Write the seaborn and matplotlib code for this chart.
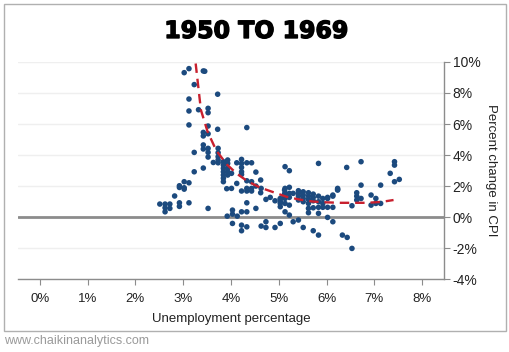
import numpy as np
import pandas as pd
import matplotlib
matplotlib.use("Agg")
import matplotlib.pyplot as plt
import matplotlib.patheffects as pe
from matplotlib.patches import Rectangle
from matplotlib.ticker import FuncFormatter
import seaborn as sns

# ------------------------------------------
# Data (monthly points, 1950-1969)
# ------------------------------------------
unemployment = [
    2.51, 2.62, 2.72, 2.62, 2.72, 2.62, 2.92, 2.92, 3.12, 2.82,
    2.92, 2.92, 3.02, 3.02, 3.02, 3.12, 3.23, 3.23, 3.02, 3.12,
    3.42, 3.45, 3.23, 3.12, 3.12, 3.12, 3.32, 3.52, 3.52, 3.72,
    3.52, 3.42, 3.42, 3.52, 3.72, 4.33, 3.42, 3.52,
    3.42, 3.42, 3.52, 3.52, 3.52, 3.63, 3.73, 3.73, 3.73, 3.73, 3.73,
    3.84, 3.84, 3.84, 3.84, 3.84, 3.84, 3.84,
    3.93, 3.93, 3.93, 3.93, 3.93, 4.01, 4.01, 3.91, 4.12,
    4.22, 4.22, 4.22, 4.22, 4.22, 4.33, 4.43, 4.52, 4.12,
    4.22, 4.33, 4.43, 4.33, 4.43, 4.33, 4.43, 4.52, 4.63, 4.62, 4.62,
    4.73, 4.82, 4.92, 5.03, 5.03, 5.03, 5.03, 5.03, 5.12, 5.12, 5.12,
    4.33, 3.92, 4.03, 4.13, 4.22, 4.33, 4.52, 4.03,
    4.03, 4.22, 4.22, 4.33, 4.63, 4.73, 4.73, 4.92, 5.03,
    5.13, 5.22, 5.83, 6.42,
    5.13, 5.13, 5.13, 5.13, 5.13, 5.13,
    5.22, 5.22, 5.22, 5.22, 5.22,
    5.30, 5.30,
    5.41, 5.41, 5.41, 5.41, 5.41,
    5.51, 5.51, 5.51, 5.51, 5.51,
    5.62, 5.62, 5.62, 5.62, 5.62, 5.62,
    5.72, 5.72, 5.72, 5.72, 5.72,
    5.83, 5.83, 5.83, 5.83, 5.83,
    5.92, 5.92, 5.92,
    6.02, 6.02, 6.02, 6.02,
    6.13, 6.13, 6.13, 6.13,
    6.23, 6.23, 6.23,
    6.33, 6.43, 6.53, 6.53,
    6.63, 6.63, 6.63,
    6.72, 6.72, 6.72,
    6.93, 6.93, 7.03, 7.03, 7.13, 7.13,
    7.33, 7.42, 7.42, 7.42, 7.52,
]
cpi_change = [
    0.84, 0.84, 0.84, 0.60, 0.56, 0.34, 0.92, 0.69, 0.92, 1.36,
    2.02, 1.91, 2.28, 1.89, 1.80, 2.21, 2.92, 4.17, 9.31, 9.57,
    9.42, 9.40, 8.54, 7.61, 6.84, 5.94, 6.92, 7.01, 6.73, 7.92,
    5.87, 5.46, 5.23, 5.37, 5.66, 5.77, 3.16, 0.56,
    4.65, 4.39, 4.43, 4.17, 3.87, 3.52, 4.43, 4.15, 3.89, 3.68, 3.50,
    3.57, 3.35, 3.14, 2.92, 2.71, 2.50, 2.28,
    3.68, 3.46, 3.14, 2.92, 2.71, 2.82, 1.85, 1.83, 3.50,
    3.72, 3.46, 3.20, 2.92, 2.75, 3.50, 3.50, 2.90, 2.17,
    1.68, 1.68, 1.68, 1.85, 1.85, 2.34, 2.28, 2.00, 1.85, 1.57, 2.39,
    1.14, 1.27, 1.05, 1.14, 0.88, 0.67, 1.20, 0.99, 1.74, 1.48, 1.27,
    0.92, 0.06, 0.45, 0.06, 0.34, 0.34, 0.56, 0.19,
    -0.41, -0.52, -0.88, -0.63, -0.58, -0.30, -0.67, -0.67, -0.41,
    3.25, 2.99, 3.46, 3.20,
    1.85, 1.20, 0.88, 0.34, 1.53, 1.42,
    1.92, 1.53, 1.27, 0.77, 0.13,
    1.53, -0.30,
    1.70, 1.53, 1.35, 1.10, -0.19,
    1.63, 1.42, 1.20, 0.99, -0.67,
    1.57, 1.35, 1.14, 0.88, 0.56, 0.28,
    1.48, 1.27, 1.05, 0.60, -0.88,
    1.35, 0.99, 0.63, 0.24, -1.16,
    1.20, 0.88, 0.63,
    1.20, 0.63, 1.27, -0.02,
    1.35, 1.42, 0.63, -0.30,
    1.85, 1.78, 1.74,
    -1.16, -1.31, -2.02, 0.73,
    1.57, 1.35, 1.10,
    3.57, 2.06, 1.20,
    1.42, 0.77, 1.20, 0.88, 0.88, 2.06,
    2.82, 3.57, 3.35, 2.28, 2.43,
]

# red dashed trend
trend_x = [3.26, 3.37, 3.51, 3.69, 3.91, 4.12, 4.35, 4.61, 5.03, 5.17,
           5.45, 5.72, 6.00, 6.28, 6.84, 7.15, 7.40]
trend_y = [9.9, 6.9, 5.5, 4.3, 3.4, 2.8, 2.3, 1.9, 1.45, 1.3,
           1.12, 1.0, 0.95, 0.92, 0.92, 0.98, 1.1]

x_ticks = [0, 1, 2, 3, 4, 5, 6, 7, 8]
y_ticks = [-4, -2, 0, 2, 4, 6, 8, 10]

df = pd.DataFrame({"unemployment": unemployment, "cpi": cpi_change})
trend = pd.DataFrame({"x": trend_x, "y": trend_y})

sns.set_style("white")
plt.rcParams["font.family"] = ["Liberation Sans", "DejaVu Sans"]

fig = plt.figure(figsize=(5.10, 3.52), dpi=100)
ax = fig.add_axes([0.035, 0.207, 0.836, 0.617])

# light gridlines + zero line
for yv in y_ticks:
    if yv != 0:
        ax.axhline(yv, color="#efefef", lw=1.0, zorder=0)
ax.axhline(0, color="#8c8c8c", lw=2.0, zorder=1)

sns.scatterplot(data=df, x="unemployment", y="cpi", ax=ax, color="#1c4a7e",
                s=16, edgecolor="none", linewidth=0, zorder=3, legend=False)
sns.lineplot(data=trend, x="x", y="y", ax=ax, color="#c8202e", lw=1.7,
             dashes=False, zorder=4, sort=False)
ax.lines[-1].set_dashes([4, 2.5])

ax.set_xlim(-0.46, 8.46)
ax.set_ylim(-4, 10)
ax.set_xticks(x_ticks)
ax.set_yticks(y_ticks)
ax.xaxis.set_major_formatter(FuncFormatter(lambda v, p: f"{v:.0f}%"))
ax.yaxis.set_major_formatter(FuncFormatter(lambda v, p: f"{v:.0f}%"))
ax.yaxis.tick_right()
ax.yaxis.set_label_position("right")

for side in ["left", "top"]:
    ax.spines[side].set_visible(False)
for side in ["right", "bottom"]:
    ax.spines[side].set_visible(True)
    ax.spines[side].set_color("#8c8c8c")
    ax.spines[side].set_linewidth(1.0)

ax.tick_params(axis="x", length=4, color="#8c8c8c", labelsize=9.5,
               labelcolor="#222222", pad=6, bottom=True)
ax.tick_params(axis="y", length=4, color="#8c8c8c", labelsize=10,
               labelcolor="#222222", pad=2, right=True, left=False)

ax.set_xlabel("Unemployment percentage", fontsize=9.5, color="#222222", labelpad=6)
ax.set_ylabel("Percent change in CPI", fontsize=9.5, color="#222222",
              rotation=-90, labelpad=12)

# title
fig.text(0.503, 0.912, "1950 TO 1969", ha="center", va="center",
         fontsize=17, fontweight="bold", family="DejaVu Sans", color="black",
         path_effects=[pe.withStroke(linewidth=1.0, foreground="black")])

# frame and watermark
fig.patches.append(Rectangle((4 / 510, 1 - 331 / 352), 502 / 510, 327 / 352,
                             transform=fig.transFigure, fill=False,
                             edgecolor="#b0b0b0", lw=1.0))
fig.text(4 / 510, 1 - 341 / 352, "www.chaikinanalytics.com", ha="left",
         va="center", fontsize=9, color="#9a9a9a")

fig.savefig("out.png", dpi=100)
